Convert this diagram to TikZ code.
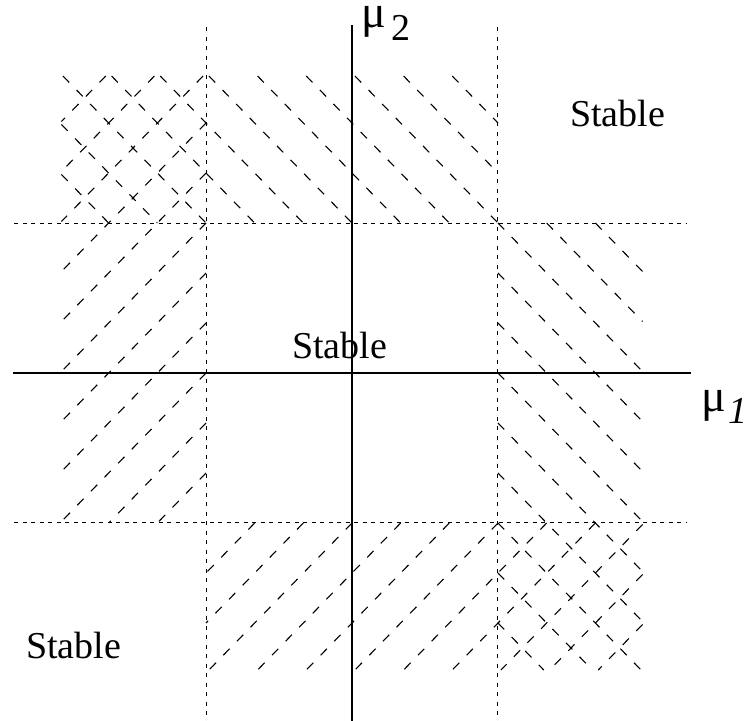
\documentclass[tikz,border=0pt]{standalone}
\usepackage{fontspec}
\setmainfont{Liberation Serif}
% lines x+y=c ("\"), drawn from upper-left to lower-right, inside [#1,#2]x[#3,#4]
\newcommand\hatchbs[4]{%
  \foreach \k in {-12,...,12}{%
    \pgfmathsetmacro\cc{\k/3}%
    \pgfmathsetmacro\xs{max(#1,\cc-(#4))}%
    \pgfmathsetmacro\xe{min(#2,\cc-(#3))}%
    \pgfmathsetmacro\ys{\cc-\xs}%
    \pgfmathsetmacro\ye{\cc-\xe}%
    \pgfmathsetmacro\len{\xe-\xs}%
    \ifdim\len pt>0.03pt \draw[hatchline] (\xs,\ys) -- (\xe,\ye);\fi
  }}
% lines x-y=c ("/"), drawn from upper-right to lower-left, inside [#1,#2]x[#3,#4]
\newcommand\hatchfs[4]{%
  \foreach \k in {-12,...,12}{%
    \pgfmathsetmacro\cc{\k/3}%
    \pgfmathsetmacro\xs{max(#1,(#3)+\cc)}%
    \pgfmathsetmacro\xe{min(#2,(#4)+\cc)}%
    \pgfmathsetmacro\ys{\xs-\cc}%
    \pgfmathsetmacro\ye{\xe-\cc}%
    \pgfmathsetmacro\len{\xe-\xs}%
    \ifdim\len pt>0.03pt \draw[hatchline] (\xe,\ye) -- (\xs,\ys);\fi
  }}
\newcommand\bigmu{{\fontsize{46pt}{48pt}\selectfont μ}}
\begin{document}
\begin{tikzpicture}[x=1pt,y=-1pt,
  axis/.style={line width=2.2pt},
  gridline/.style={line width=1pt, dash pattern=on 4pt off 4.5pt},
  vgridline/.style={line width=1pt, dash pattern=on 4pt off 5.5pt},
  hatchline/.style={line width=1.1pt, dash pattern=on 9pt off 10.5pt},
  lbl/.style={inner sep=0pt, anchor=base west, font=\fontsize{38pt}{40pt}\selectfont}]
\useasboundingbox (0,0) rectangle (756,721);

% hatching (cell units, y up, origin at axes crossing)
\begin{scope}[shift={(352pt,-373pt)}, x={(146pt,0pt)}, y={(0pt,150pt)}]
  \hatchbs{-1.99}{1}{1}{1.98}
  \hatchbs{1}{1.99}{-1.98}{1}
  \hatchfs{-1.99}{-1}{-1}{1.98}
  \hatchfs{-1}{1.99}{-1.98}{-1}
\end{scope}

% dotted grid lines
\coordinate (h1l) at (14,223);  \coordinate (h1r) at (687,223);
\coordinate (h2l) at (14,522);  \coordinate (h2r) at (687,522);
\coordinate (v1t) at (206,27);  \coordinate (v1b) at (206,721);
\coordinate (v2t) at (497,27);  \coordinate (v2b) at (497,721);
\draw[gridline] (h1l) -- (h1r);
\draw[gridline] (h2l) -- (h2r);
\draw[vgridline] (v1t) -- (v1b);
\draw[vgridline] (v2t) -- (v2b);

% axes
\coordinate (xl) at (13,373);  \coordinate (xr) at (691,373);
\coordinate (yt) at (352,25);  \coordinate (yb) at (352,721);
\draw[axis] (xl) -- (xr);
\draw[axis] (yt) -- (yb);

% labels
\node[lbl] (mu2) at (361,27) {\bigmu\kern6pt\raisebox{-13pt}{2}};
\node[lbl] (mu1) at (701,411) {\bigmu\kern3pt\raisebox{-12pt}{\itshape 1}};
\node[lbl] (s1) at (570,126) {Stable};
\node[lbl] (s2) at (292,358) {Stable};
\node[lbl] (s3) at (26,658) {Stable};
\end{tikzpicture}
\end{document}
